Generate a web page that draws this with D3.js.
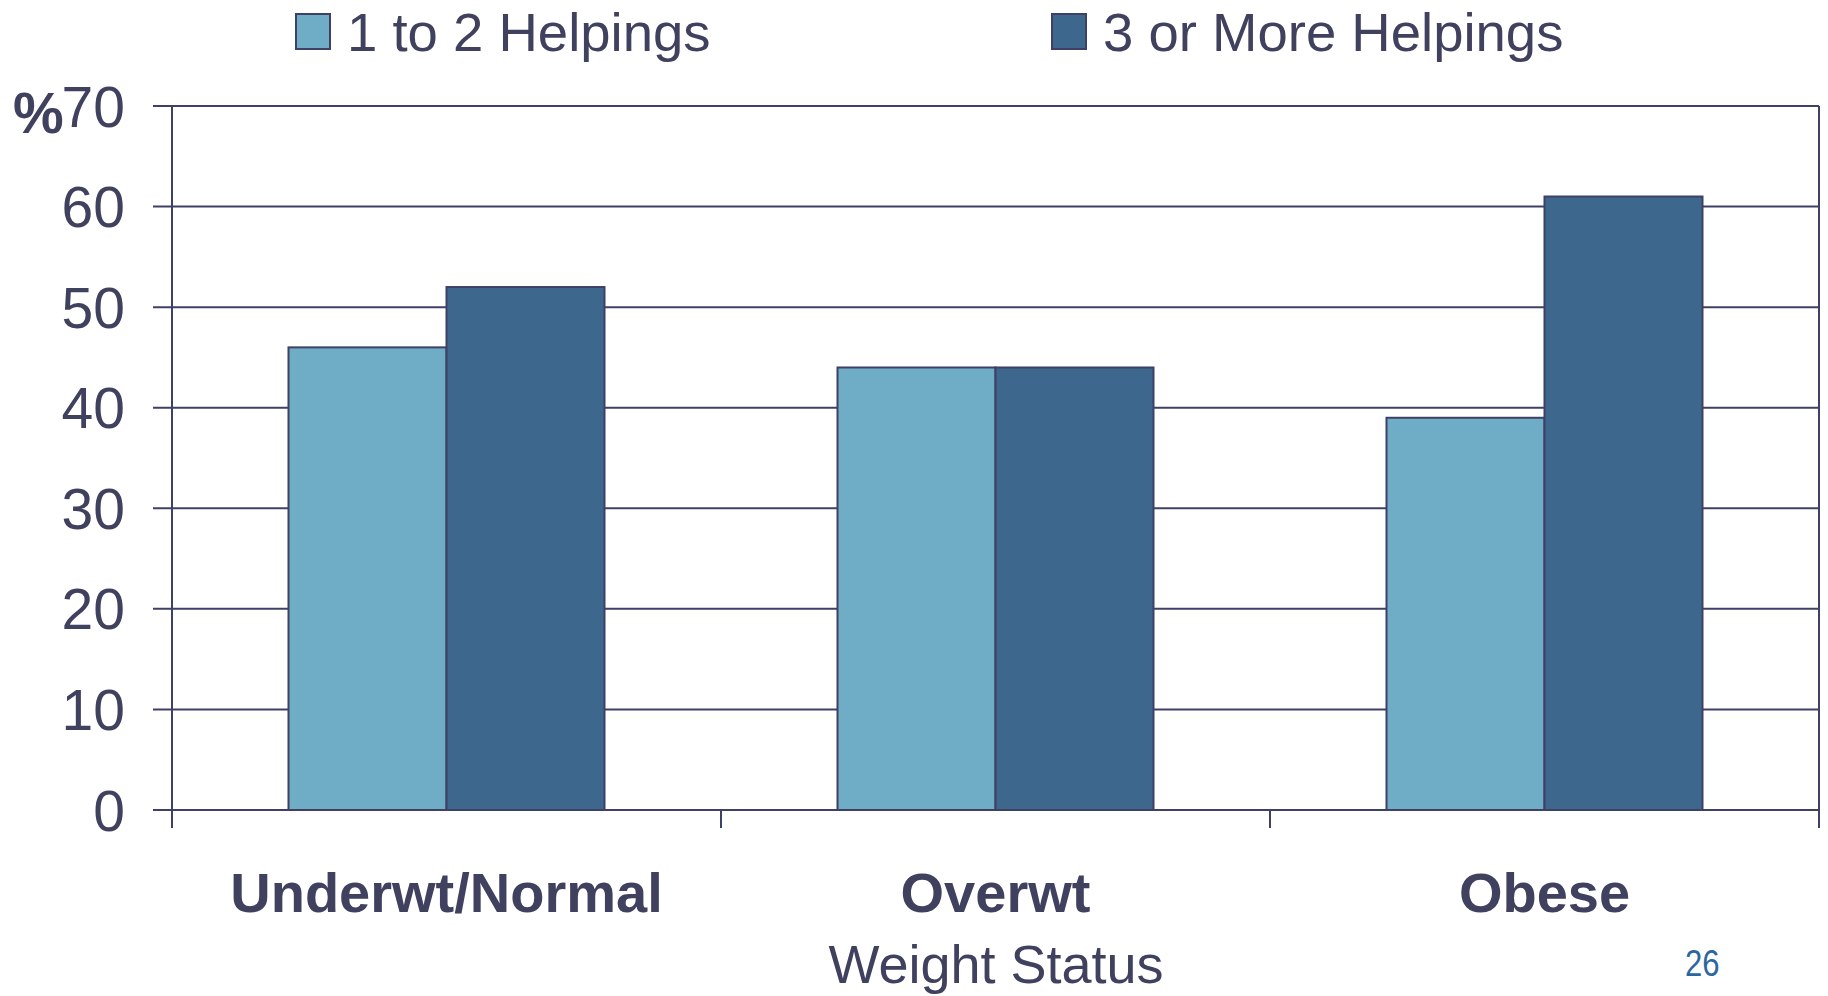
<!DOCTYPE html>
<html>
<head>
<meta charset="utf-8">
<script src="https://cdn.jsdelivr.net/npm/d3@7"></script>
<style>
  html, body { margin: 0; padding: 0; background: #ffffff; }
  svg { display: block; font-family: "Liberation Sans", Arial, sans-serif; }
</style>
</head>
<body>
<svg id="chart" width="1828" height="996"></svg>
<script>
// ---- data ----
const categories = ["Underwt/Normal", "Overwt", "Obese"];
const seriesNames = ["1 to 2 Helpings", "3 or More Helpings"];
const oneToTwo = [46, 44, 39];
const threeOrMore = [52, 44, 61];
const yTicks = [0, 10, 20, 30, 40, 50, 60, 70];
const yUnit = "%";
const xTitle = "Weight Status";
const pageNumber = "26";

// ---- style / layout ----
const W = 1828, H = 996;
const margin = { left: 172, right: 9, top: 106, bottom: 186 };
const colors = ["#6FACC5", "#3E678D"];
const ink = "#40405F";
const lineColor = "#3F4066";

const svg = d3.select("#chart");

const x = d3.scaleBand()
  .domain(categories)
  .range([margin.left, W - margin.right])
  .paddingInner(0.4244)
  .paddingOuter(0.2122);
const x1 = d3.scaleBand().domain(seriesNames).range([0, x.bandwidth()]);
const y = d3.scaleLinear().domain([0, 70]).range([H - margin.bottom, margin.top]);

const x0 = margin.left, xR = W - margin.right, yB = y(0);

// gridlines + left ticks
svg.append("g").selectAll("line").data(yTicks).join("line")
  .attr("x1", x0 - 19).attr("x2", xR)
  .attr("y1", d => y(d)).attr("y2", d => y(d))
  .attr("stroke", lineColor).attr("stroke-width", 2);

// y tick labels
svg.append("g").selectAll("text").data(yTicks).join("text")
  .attr("x", 125).attr("y", d => y(d))
  .attr("dy", "0.36em")
  .attr("text-anchor", "end")
  .attr("font-size", 57)
  .attr("fill", ink)
  .text(d => d);

// % unit
svg.append("text")
  .attr("x", 13).attr("y", 133)
  .attr("font-size", 57).attr("font-weight", "bold")
  .attr("fill", ink).text(yUnit);

// bars
const data = categories.map((c, i) => ({ c, vals: [oneToTwo[i], threeOrMore[i]] }));
const groups = svg.append("g").selectAll("g").data(data).join("g")
  .attr("transform", d => `translate(${x(d.c)},0)`);
groups.selectAll("rect").data(d => d.vals.map((v, j) => ({ v, s: seriesNames[j], j })))
  .join("rect")
  .attr("x", d => x1(d.s))
  .attr("width", x1.bandwidth())
  .attr("y", d => y(d.v))
  .attr("height", d => yB - y(d.v))
  .attr("fill", d => colors[d.j])
  .attr("stroke", lineColor).attr("stroke-width", 2);

// axes frame: left, right, bottom
svg.append("line").attr("x1", x0).attr("x2", x0).attr("y1", y(70)).attr("y2", yB)
  .attr("stroke", lineColor).attr("stroke-width", 2);
svg.append("line").attr("x1", xR).attr("x2", xR).attr("y1", y(70)).attr("y2", yB)
  .attr("stroke", lineColor).attr("stroke-width", 2);
svg.append("line").attr("x1", x0).attr("x2", xR).attr("y1", yB).attr("y2", yB)
  .attr("stroke", lineColor).attr("stroke-width", 2);

// x ticks at category boundaries
const step = x.step();
const bounds = d3.range(categories.length + 1).map(i => x0 + i * step);
svg.append("g").selectAll("line").data(bounds).join("line")
  .attr("x1", d => d).attr("x2", d => d)
  .attr("y1", yB).attr("y2", yB + 18)
  .attr("stroke", lineColor).attr("stroke-width", 2);

// category labels
svg.append("g").selectAll("text").data(categories).join("text")
  .attr("x", d => x(d) + x.bandwidth() / 2)
  .attr("y", 912)
  .attr("text-anchor", "middle")
  .attr("font-size", 56).attr("font-weight", "bold")
  .attr("fill", ink)
  .text(d => d);

// x title
svg.append("text")
  .attr("x", 996).attr("y", 983)
  .attr("text-anchor", "middle")
  .attr("font-size", 54)
  .attr("fill", ink)
  .text(xTitle);

// page number
svg.append("text")
  .attr("transform", "translate(1685,976) scale(0.84,1)")
  .attr("font-size", 37)
  .attr("fill", "#2A66A0")
  .text(pageNumber);

// legend
const legendPos = [{ sx: 296, tx: 347 }, { sx: 1052, tx: 1103 }];
const lg = svg.append("g").selectAll("g").data(seriesNames).join("g");
lg.append("rect")
  .attr("x", (d, i) => legendPos[i].sx).attr("y", 14)
  .attr("width", 34).attr("height", 35)
  .attr("fill", (d, i) => colors[i])
  .attr("stroke", lineColor).attr("stroke-width", 2);
lg.append("text")
  .attr("x", (d, i) => legendPos[i].tx).attr("y", 51)
  .attr("font-size", 54.5)
  .attr("fill", ink)
  .text(d => d);
</script>
</body>
</html>
